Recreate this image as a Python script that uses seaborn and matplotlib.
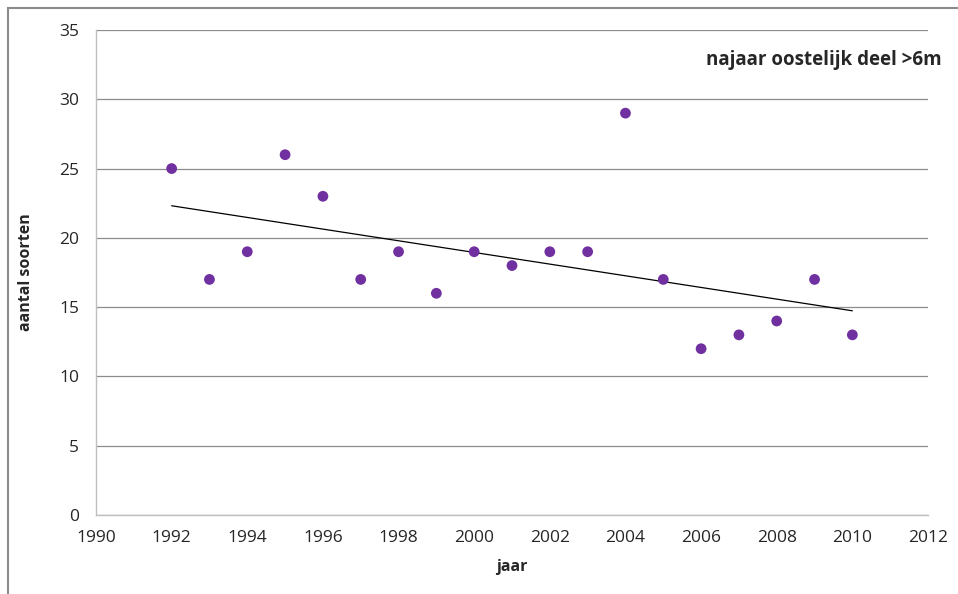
import numpy as np
import pandas as pd
import matplotlib
matplotlib.use("Agg")
import matplotlib.pyplot as plt
import seaborn as sns
from matplotlib.patches import Rectangle

# gegevens uit de grafiek
jaren = [1992, 1993, 1994, 1995, 1996, 1997, 1998, 1999, 2000, 2001,
         2002, 2003, 2004, 2005, 2006, 2007, 2008, 2009, 2010]
soorten = [25, 17, 19, 26, 23, 17, 19, 16, 19, 18,
           19, 19, 29, 17, 12, 13, 14, 17, 13]
titel = "najaar oostelijk deel >6m"

df = pd.DataFrame({"jaar": jaren, "soorten": soorten})

sns.set_style("white")
plt.rcParams['font.family'] = ['Open Sans', 'DejaVu Sans']

fig = plt.figure(figsize=(9.58, 5.94), dpi=100)
ax = fig.add_axes([96 / 958, 1 - 515 / 594, 832 / 958, 485 / 594])

# kader rond de grafiek
fig.patches.append(Rectangle((8 / 958, -0.05), 1.2, 1 - 8 / 594 + 0.05,
                             transform=fig.transFigure, fill=False,
                             edgecolor="#8c8c8c", linewidth=1.5))

sns.regplot(data=df, x="jaar", y="soorten", ax=ax, ci=None, truncate=True,
            scatter_kws={"color": "#7030a0", "s": 60, "alpha": 1,
                         "edgecolors": "none", "zorder": 3},
            line_kws={"color": "black", "linewidth": 0.9, "zorder": 2})

ax.set_xlim(1990, 2012)
ax.set_ylim(0, 35)
ax.set_xticks(range(1990, 2013, 2))
ax.set_yticks(range(0, 36, 5))
ax.yaxis.grid(True, color="#8c8c8c", linewidth=0.9)
ax.set_axisbelow(True)
for s in ["top", "right"]:
    ax.spines[s].set_visible(False)
for s in ["left", "bottom"]:
    ax.spines[s].set_color("#bfbfbf")
    ax.spines[s].set_linewidth(1.0)
ax.tick_params(axis="x", direction="out", length=6, color="#bfbfbf", labelsize=12.5, pad=5)
ax.tick_params(axis="y", direction="out", length=6, color="#bfbfbf", labelsize=12.5, pad=6)
ax.set_xlabel("jaar", fontsize=11.5, fontweight="bold", labelpad=9)
ax.set_ylabel("aantal soorten", fontsize=11.5, fontweight="bold", labelpad=18)

fig.text(942 / 958, 1 - 60 / 594, titel, ha="right", va="center",
         fontsize=13.5, fontweight="bold")

fig.savefig("out.png", dpi=100)
